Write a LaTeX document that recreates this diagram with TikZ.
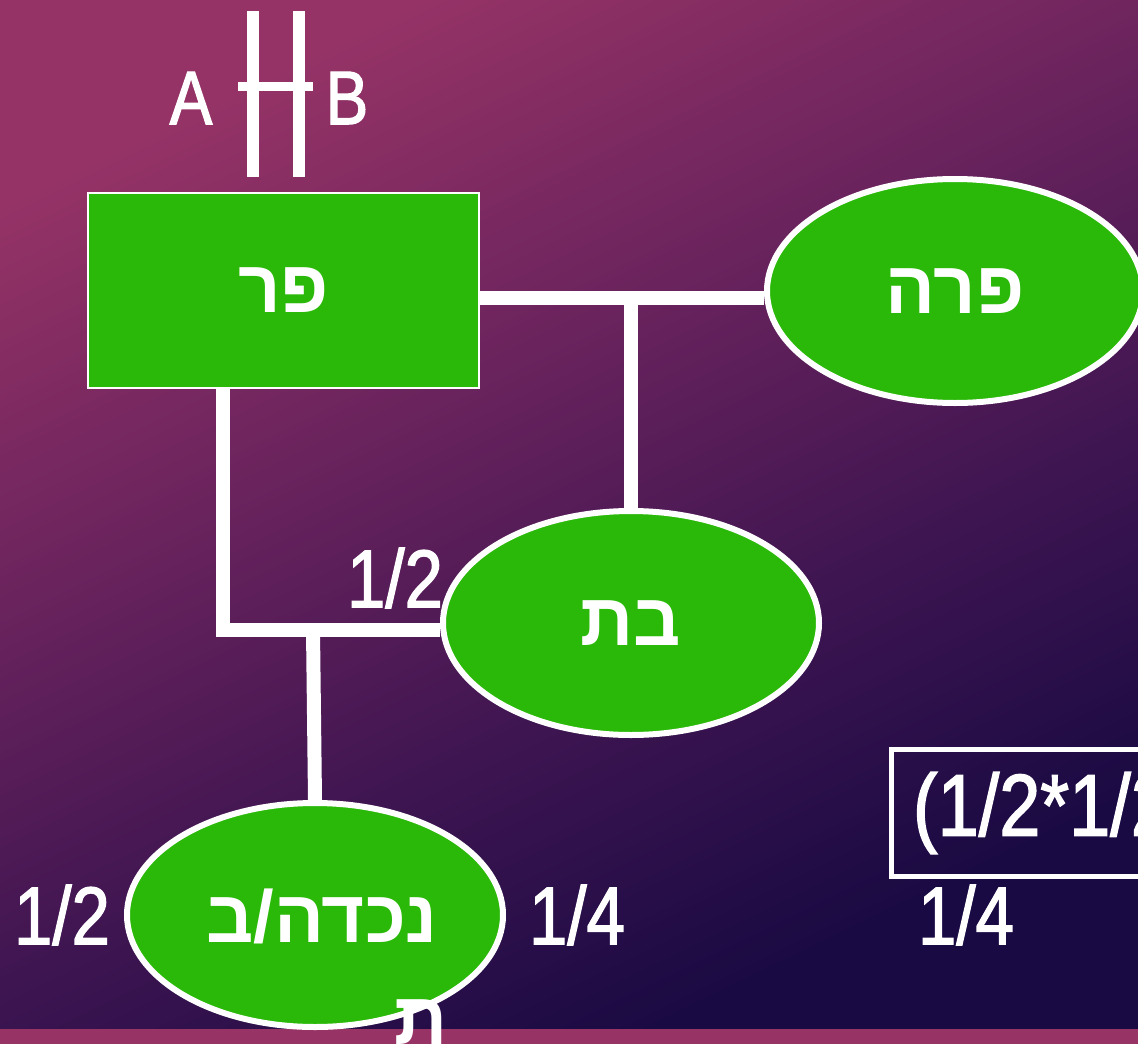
\documentclass[tikz,border=0pt]{standalone}
\usepackage{fontspec}
\setmainfont{Liberation Sans}
\newfontfamily\heb[Script=Hebrew]{Liberation Sans}
\newfontfamily\lat[FakeStretch=0.84, FakeBold=1.6]{Liberation Sans}
\TeXXeTstate=1
\usetikzlibrary{shapes.geometric}
\definecolor{gr}{HTML}{2AB908}
\definecolor{bgA}{HTML}{953366}
\definecolor{bgM}{HTML}{6A235D}
\definecolor{bgD}{HTML}{3E1551}
\definecolor{bgB}{HTML}{1A0A43}
\definecolor{strip}{HTML}{983366}
\pgfdeclareverticalshading{bgsh}{100bp}{color(0bp)=(bgB); color(27bp)=(bgB); color(42bp)=(bgD); color(58bp)=(bgM); color(75bp)=(bgA); color(100bp)=(bgA)}
\pgfdeclarelayer{bgl}\pgfdeclarelayer{lin}\pgfsetlayers{bgl,lin,main}
\begin{document}
\begin{tikzpicture}[x=1pt,y=-1pt,
  conn/.style={white, line width=14pt},
  oval/.style={ellipse, fill=gr, draw=white, line width=6pt, minimum width=376pt, minimum height=224pt, inner sep=0pt},
  hebt/.style={text=white, font=\heb\bfseries\fontsize{74}{80}\selectfont},
  fracl/.style={text=white, font=\lat\fontsize{82}{90}\selectfont, inner sep=0pt},
  markline/.style={white, line width=12pt},
  crossbar/.style={white, line width=9pt}]
\useasboundingbox (0,0) rectangle (1138,1044);
\begin{pgfonlayer}{bgl}
  \shade[shading=bgsh, shading angle=26] (0,0) rectangle (1138,1044);
  \fill[strip] (0,1029) rectangle (1138,1044);
\end{pgfonlayer}

% A || B marker
\coordinate (m1t) at (253,11); \coordinate (m1b) at (253,177);
\coordinate (m2t) at (299,11); \coordinate (m2b) at (299,177);
\coordinate (bl) at (238,86); \coordinate (br) at (313,86);
\draw[markline] (m1t) -- (m1b);
\draw[markline] (m2t) -- (m2b);
\draw[crossbar] (bl) -- (br);
\node[fracl, font=\lat\fontsize{76}{80}\selectfont] (A) at (191,98) {A};
\node[fracl, font=\lat\fontsize{76}{80}\selectfont] (B) at (347,98) {B};

% nodes
\node[rectangle, fill=gr, draw=white, line width=2pt, minimum width=391pt, minimum height=195pt, inner sep=0pt, hebt] (par) at (283.5,290.5) {\beginR פר\endR};
\node[oval, hebt] (para) at (955,291) {\beginR פרה\endR};
\node[oval, hebt] (bat) at (631,623) {\beginR בת\endR};
\node[oval] (nech) at (315,915) {};
\node[hebt, inner sep=0pt] (nechT1) at (322,916) {\beginR נכדה/ב\endR};
\node[hebt, inner sep=0pt] (nechT2) at (421,1022) {\beginR ת\endR};

% connectors
\coordinate (j1) at (631,298);
\coordinate (c2) at (223,630);
\coordinate (j2) at (313,630);
\begin{pgfonlayer}{lin}
  \draw[conn] (par.east |- j1) -- (para.west |- j1);
  \draw[conn] (j1) -- (bat.north);
  \draw[conn, line join=miter] (par.south -| c2) -- (c2) -- (bat.west |- c2);
  \draw[conn] (j2) -- (nech.north);
\end{pgfonlayer}

% fractions
\node[fracl] (f1) at (395,578) {1/2};
\node[fracl] (f2) at (62,915) {1/2};
\node[fracl] (f3) at (577,915) {1/4};
\node[fracl] (f4) at (966,915) {1/4};
\node[draw=white, line width=5pt, minimum height=127pt, inner xsep=22pt, inner ysep=0pt, anchor=west, text=white, font=\lat\fontsize{88}{96}\selectfont] (calc) at (888.5,813) {(1/2*1/2)};
\end{tikzpicture}
\end{document}
